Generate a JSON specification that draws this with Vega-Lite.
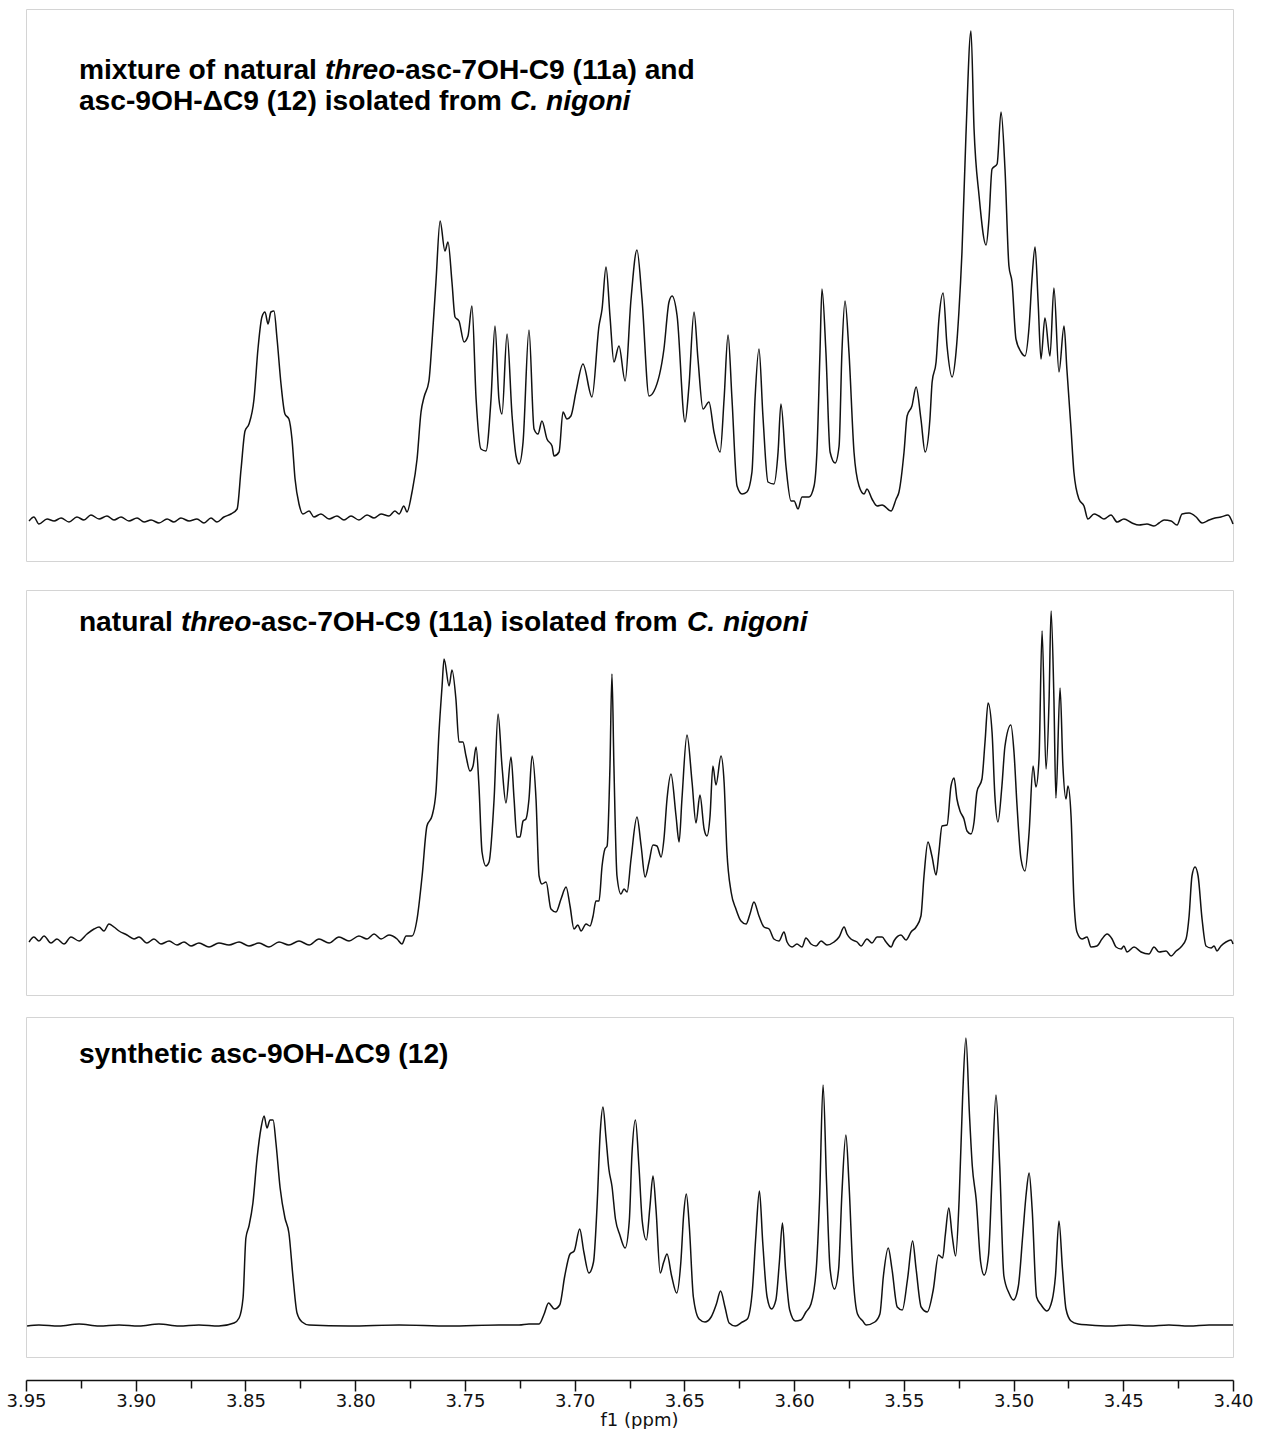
{
"$schema": "https://vega.github.io/schema/vega-lite/v6.json",
"background": "white",
"padding": {"left": 5, "top": 8, "right": 9, "bottom": 0},
"config": {"view": {"stroke": "#d4d4d4", "strokeWidth": 1}},
"datasets": {
"p1": [
{"ppm":3.9486,"intensity":40},{"ppm":3.9464,"intensity":44},{"ppm":3.9441,"intensity":37},{"ppm":3.9404,"intensity":42},{"ppm":3.9372,"intensity":40},{"ppm":3.9340,"intensity":43},{"ppm":3.9304,"intensity":39},{"ppm":3.9268,"intensity":44},{"ppm":3.9236,"intensity":41},{"ppm":3.9204,"intensity":46},{"ppm":3.9167,"intensity":42},{"ppm":3.9131,"intensity":45},{"ppm":3.9099,"intensity":41},{"ppm":3.9067,"intensity":44},{"ppm":3.9031,"intensity":40},{"ppm":3.8994,"intensity":43},{"ppm":3.8962,"intensity":39},{"ppm":3.8930,"intensity":41},{"ppm":3.8894,"intensity":38},{"ppm":3.8857,"intensity":42},{"ppm":3.8826,"intensity":39},{"ppm":3.8794,"intensity":43},{"ppm":3.8757,"intensity":40},{"ppm":3.8721,"intensity":42},{"ppm":3.8689,"intensity":38},{"ppm":3.8657,"intensity":43},{"ppm":3.8630,"intensity":39},{"ppm":3.8598,"intensity":44},{"ppm":3.8566,"intensity":47},{"ppm":3.8538,"intensity":52},{"ppm":3.8520,"intensity":92},{"ppm":3.8502,"intensity":130},{"ppm":3.8484,"intensity":137},{"ppm":3.8461,"intensity":162},{"ppm":3.8443,"intensity":212},{"ppm":3.8425,"intensity":244},{"ppm":3.8411,"intensity":249},{"ppm":3.8397,"intensity":237},{"ppm":3.8384,"intensity":249},{"ppm":3.8370,"intensity":250},{"ppm":3.8356,"intensity":222},{"ppm":3.8338,"intensity":177},{"ppm":3.8320,"intensity":147},{"ppm":3.8302,"intensity":142},{"ppm":3.8288,"intensity":122},{"ppm":3.8274,"intensity":82},{"ppm":3.8256,"intensity":57},{"ppm":3.8238,"intensity":47},{"ppm":3.8210,"intensity":50},{"ppm":3.8188,"intensity":44},{"ppm":3.8156,"intensity":47},{"ppm":3.8119,"intensity":42},{"ppm":3.8083,"intensity":45},{"ppm":3.8051,"intensity":41},{"ppm":3.8019,"intensity":45},{"ppm":3.7983,"intensity":41},{"ppm":3.7946,"intensity":46},{"ppm":3.7914,"intensity":43},{"ppm":3.7882,"intensity":47},{"ppm":3.7846,"intensity":45},{"ppm":3.7819,"intensity":50},{"ppm":3.7800,"intensity":47},{"ppm":3.7778,"intensity":55},{"ppm":3.7764,"intensity":49},{"ppm":3.7741,"intensity":69},{"ppm":3.7718,"intensity":102},{"ppm":3.7700,"intensity":149},{"ppm":3.7686,"intensity":164},{"ppm":3.7664,"intensity":180},{"ppm":3.7650,"intensity":219},{"ppm":3.7632,"intensity":279},{"ppm":3.7613,"intensity":340},{"ppm":3.7591,"intensity":310},{"ppm":3.7577,"intensity":319},{"ppm":3.7559,"intensity":279},{"ppm":3.7545,"intensity":244},{"ppm":3.7527,"intensity":240},{"ppm":3.7504,"intensity":219},{"ppm":3.7486,"intensity":225},{"ppm":3.7468,"intensity":255},{"ppm":3.7449,"intensity":162},{"ppm":3.7427,"intensity":112},{"ppm":3.7404,"intensity":110},{"ppm":3.7381,"intensity":162},{"ppm":3.7363,"intensity":235},{"ppm":3.7345,"intensity":162},{"ppm":3.7331,"intensity":147},{"ppm":3.7308,"intensity":227},{"ppm":3.7285,"intensity":145},{"ppm":3.7267,"intensity":105},{"ppm":3.7253,"intensity":97},{"ppm":3.7235,"intensity":119},{"ppm":3.7208,"intensity":231},{"ppm":3.7185,"intensity":132},{"ppm":3.7167,"intensity":127},{"ppm":3.7149,"intensity":140},{"ppm":3.7126,"intensity":122},{"ppm":3.7103,"intensity":115},{"ppm":3.7094,"intensity":105},{"ppm":3.7071,"intensity":109},{"ppm":3.7053,"intensity":149},{"ppm":3.7035,"intensity":142},{"ppm":3.7017,"intensity":145},{"ppm":3.6994,"intensity":169},{"ppm":3.6962,"intensity":197},{"ppm":3.6921,"intensity":164},{"ppm":3.6889,"intensity":235},{"ppm":3.6875,"intensity":252},{"ppm":3.6857,"intensity":294},{"ppm":3.6839,"intensity":245},{"ppm":3.6821,"intensity":199},{"ppm":3.6798,"intensity":215},{"ppm":3.6770,"intensity":180},{"ppm":3.6743,"intensity":262},{"ppm":3.6716,"intensity":311},{"ppm":3.6693,"intensity":262},{"ppm":3.6661,"intensity":165},{"ppm":3.6638,"intensity":170},{"ppm":3.6593,"intensity":212},{"ppm":3.6570,"intensity":259},{"ppm":3.6556,"intensity":265},{"ppm":3.6533,"intensity":245},{"ppm":3.6497,"intensity":139},{"ppm":3.6479,"intensity":175},{"ppm":3.6456,"intensity":249},{"ppm":3.6438,"intensity":202},{"ppm":3.6415,"intensity":152},{"ppm":3.6388,"intensity":159},{"ppm":3.6365,"intensity":129},{"ppm":3.6337,"intensity":109},{"ppm":3.6319,"intensity":162},{"ppm":3.6301,"intensity":226},{"ppm":3.6283,"intensity":162},{"ppm":3.6260,"intensity":75},{"ppm":3.6237,"intensity":67},{"ppm":3.6215,"intensity":69},{"ppm":3.6192,"intensity":89},{"ppm":3.6178,"intensity":162},{"ppm":3.6160,"intensity":212},{"ppm":3.6142,"intensity":145},{"ppm":3.6119,"intensity":79},{"ppm":3.6092,"intensity":77},{"ppm":3.6073,"intensity":109},{"ppm":3.6060,"intensity":157},{"ppm":3.6037,"intensity":95},{"ppm":3.6014,"intensity":60},{"ppm":3.6000,"intensity":60},{"ppm":3.5982,"intensity":52},{"ppm":3.5964,"intensity":64},{"ppm":3.5932,"intensity":64},{"ppm":3.5909,"intensity":75},{"ppm":3.5896,"intensity":109},{"ppm":3.5882,"intensity":209},{"ppm":3.5873,"intensity":272},{"ppm":3.5855,"intensity":209},{"ppm":3.5836,"intensity":109},{"ppm":3.5813,"intensity":98},{"ppm":3.5795,"intensity":115},{"ppm":3.5782,"intensity":209},{"ppm":3.5768,"intensity":260},{"ppm":3.5750,"intensity":209},{"ppm":3.5727,"intensity":109},{"ppm":3.5704,"intensity":75},{"ppm":3.5681,"intensity":67},{"ppm":3.5668,"intensity":72},{"ppm":3.5645,"intensity":62},{"ppm":3.5622,"intensity":55},{"ppm":3.5599,"intensity":56},{"ppm":3.5558,"intensity":50},{"ppm":3.5535,"intensity":62},{"ppm":3.5522,"intensity":69},{"ppm":3.5499,"intensity":109},{"ppm":3.5485,"intensity":145},{"ppm":3.5463,"intensity":155},{"ppm":3.5444,"intensity":174},{"ppm":3.5422,"intensity":142},{"ppm":3.5403,"intensity":109},{"ppm":3.5381,"intensity":142},{"ppm":3.5371,"intensity":179},{"ppm":3.5353,"intensity":199},{"ppm":3.5340,"intensity":242},{"ppm":3.5321,"intensity":268},{"ppm":3.5303,"intensity":215},{"ppm":3.5280,"intensity":184},{"ppm":3.5262,"intensity":209},{"ppm":3.5249,"intensity":249},{"ppm":3.5235,"intensity":309},{"ppm":3.5217,"intensity":425},{"ppm":3.5194,"intensity":530},{"ppm":3.5180,"intensity":432},{"ppm":3.5157,"intensity":365},{"ppm":3.5125,"intensity":316},{"ppm":3.5112,"intensity":342},{"ppm":3.5098,"intensity":392},{"ppm":3.5075,"intensity":397},{"ppm":3.5057,"intensity":449},{"ppm":3.5039,"intensity":392},{"ppm":3.5021,"intensity":295},{"ppm":3.5007,"intensity":279},{"ppm":3.4989,"intensity":222},{"ppm":3.4966,"intensity":209},{"ppm":3.4948,"intensity":205},{"ppm":3.4929,"intensity":235},{"ppm":3.4916,"intensity":282},{"ppm":3.4902,"intensity":314},{"ppm":3.4888,"intensity":259},{"ppm":3.4875,"intensity":202},{"ppm":3.4857,"intensity":243},{"ppm":3.4834,"intensity":205},{"ppm":3.4816,"intensity":273},{"ppm":3.4793,"intensity":189},{"ppm":3.4770,"intensity":235},{"ppm":3.4757,"intensity":192},{"ppm":3.4738,"intensity":132},{"ppm":3.4725,"intensity":89},{"ppm":3.4702,"intensity":62},{"ppm":3.4679,"intensity":55},{"ppm":3.4661,"intensity":42},{"ppm":3.4633,"intensity":47},{"ppm":3.4611,"intensity":45},{"ppm":3.4588,"intensity":42},{"ppm":3.4556,"intensity":46},{"ppm":3.4528,"intensity":39},{"ppm":3.4497,"intensity":42},{"ppm":3.4460,"intensity":38},{"ppm":3.4428,"intensity":36},{"ppm":3.4392,"intensity":37},{"ppm":3.4360,"intensity":35},{"ppm":3.4337,"intensity":38},{"ppm":3.4314,"intensity":41},{"ppm":3.4282,"intensity":40},{"ppm":3.4255,"intensity":36},{"ppm":3.4232,"intensity":47},{"ppm":3.4200,"intensity":48},{"ppm":3.4168,"intensity":44},{"ppm":3.4141,"intensity":38},{"ppm":3.4109,"intensity":41},{"ppm":3.4082,"intensity":43},{"ppm":3.4055,"intensity":44},{"ppm":3.4023,"intensity":46},{"ppm":3.4000,"intensity":37}
],
"p2": [
{"ppm":3.9486,"intensity":53},{"ppm":3.9464,"intensity":58},{"ppm":3.9441,"intensity":54},{"ppm":3.9418,"intensity":59},{"ppm":3.9386,"intensity":52},{"ppm":3.9359,"intensity":56},{"ppm":3.9327,"intensity":51},{"ppm":3.9295,"intensity":58},{"ppm":3.9258,"intensity":54},{"ppm":3.9222,"intensity":61},{"ppm":3.9190,"intensity":66},{"ppm":3.9167,"intensity":68},{"ppm":3.9145,"intensity":64},{"ppm":3.9122,"intensity":71},{"ppm":3.9099,"intensity":68},{"ppm":3.9076,"intensity":64},{"ppm":3.9040,"intensity":60},{"ppm":3.9008,"intensity":56},{"ppm":3.8985,"intensity":58},{"ppm":3.8949,"intensity":52},{"ppm":3.8917,"intensity":56},{"ppm":3.8885,"intensity":51},{"ppm":3.8848,"intensity":54},{"ppm":3.8812,"intensity":50},{"ppm":3.8780,"intensity":53},{"ppm":3.8748,"intensity":49},{"ppm":3.8712,"intensity":52},{"ppm":3.8666,"intensity":48},{"ppm":3.8621,"intensity":52},{"ppm":3.8575,"intensity":50},{"ppm":3.8529,"intensity":53},{"ppm":3.8484,"intensity":49},{"ppm":3.8438,"intensity":52},{"ppm":3.8393,"intensity":48},{"ppm":3.8347,"intensity":53},{"ppm":3.8302,"intensity":50},{"ppm":3.8256,"intensity":54},{"ppm":3.8210,"intensity":50},{"ppm":3.8165,"intensity":56},{"ppm":3.8119,"intensity":52},{"ppm":3.8074,"intensity":58},{"ppm":3.8028,"intensity":54},{"ppm":3.7983,"intensity":59},{"ppm":3.7946,"intensity":56},{"ppm":3.7914,"intensity":61},{"ppm":3.7882,"intensity":56},{"ppm":3.7846,"intensity":60},{"ppm":3.7809,"intensity":56},{"ppm":3.7787,"intensity":51},{"ppm":3.7768,"intensity":59},{"ppm":3.7741,"intensity":59},{"ppm":3.7718,"intensity":76},{"ppm":3.7695,"intensity":119},{"ppm":3.7673,"intensity":169},{"ppm":3.7650,"intensity":179},{"ppm":3.7632,"intensity":203},{"ppm":3.7618,"intensity":263},{"ppm":3.7604,"intensity":309},{"ppm":3.7595,"intensity":336},{"ppm":3.7572,"intensity":309},{"ppm":3.7559,"intensity":325},{"ppm":3.7541,"intensity":296},{"ppm":3.7527,"intensity":253},{"ppm":3.7509,"intensity":253},{"ppm":3.7495,"intensity":239},{"ppm":3.7477,"intensity":224},{"ppm":3.7463,"intensity":229},{"ppm":3.7449,"intensity":248},{"ppm":3.7436,"intensity":209},{"ppm":3.7422,"intensity":143},{"ppm":3.7404,"intensity":129},{"ppm":3.7390,"intensity":133},{"ppm":3.7367,"intensity":196},{"ppm":3.7349,"intensity":281},{"ppm":3.7331,"intensity":229},{"ppm":3.7313,"intensity":192},{"ppm":3.7290,"intensity":238},{"ppm":3.7276,"intensity":196},{"ppm":3.7263,"intensity":158},{"ppm":3.7249,"intensity":158},{"ppm":3.7235,"intensity":174},{"ppm":3.7222,"intensity":176},{"ppm":3.7208,"intensity":196},{"ppm":3.7194,"intensity":239},{"ppm":3.7176,"intensity":196},{"ppm":3.7162,"intensity":119},{"ppm":3.7149,"intensity":111},{"ppm":3.7130,"intensity":113},{"ppm":3.7108,"intensity":86},{"ppm":3.7085,"intensity":83},{"ppm":3.7062,"intensity":96},{"ppm":3.7039,"intensity":108},{"ppm":3.7021,"intensity":89},{"ppm":3.7003,"intensity":66},{"ppm":3.6985,"intensity":70},{"ppm":3.6971,"intensity":64},{"ppm":3.6948,"intensity":71},{"ppm":3.6930,"intensity":69},{"ppm":3.6916,"intensity":79},{"ppm":3.6903,"intensity":94},{"ppm":3.6889,"intensity":94},{"ppm":3.6875,"intensity":129},{"ppm":3.6862,"intensity":146},{"ppm":3.6852,"intensity":149},{"ppm":3.6839,"intensity":229},{"ppm":3.6830,"intensity":321},{"ppm":3.6821,"intensity":229},{"ppm":3.6807,"intensity":119},{"ppm":3.6789,"intensity":101},{"ppm":3.6775,"intensity":106},{"ppm":3.6761,"intensity":103},{"ppm":3.6743,"intensity":136},{"ppm":3.6716,"intensity":178},{"ppm":3.6697,"intensity":149},{"ppm":3.6679,"intensity":118},{"ppm":3.6661,"intensity":133},{"ppm":3.6643,"intensity":150},{"ppm":3.6625,"intensity":149},{"ppm":3.6606,"intensity":138},{"ppm":3.6593,"intensity":156},{"ppm":3.6579,"intensity":196},{"ppm":3.6561,"intensity":221},{"ppm":3.6538,"intensity":179},{"ppm":3.6524,"intensity":153},{"ppm":3.6511,"intensity":196},{"ppm":3.6488,"intensity":260},{"ppm":3.6465,"intensity":213},{"ppm":3.6447,"intensity":172},{"ppm":3.6429,"intensity":200},{"ppm":3.6410,"intensity":166},{"ppm":3.6397,"intensity":159},{"ppm":3.6383,"intensity":179},{"ppm":3.6370,"intensity":229},{"ppm":3.6356,"intensity":210},{"ppm":3.6333,"intensity":239},{"ppm":3.6319,"intensity":213},{"ppm":3.6306,"intensity":143},{"ppm":3.6287,"intensity":103},{"ppm":3.6265,"intensity":86},{"ppm":3.6242,"intensity":74},{"ppm":3.6219,"intensity":71},{"ppm":3.6201,"intensity":81},{"ppm":3.6183,"intensity":93},{"ppm":3.6160,"intensity":79},{"ppm":3.6137,"intensity":68},{"ppm":3.6114,"intensity":66},{"ppm":3.6092,"intensity":56},{"ppm":3.6069,"intensity":54},{"ppm":3.6046,"intensity":63},{"ppm":3.6032,"intensity":53},{"ppm":3.6009,"intensity":48},{"ppm":3.5987,"intensity":51},{"ppm":3.5964,"intensity":48},{"ppm":3.5946,"intensity":57},{"ppm":3.5923,"intensity":51},{"ppm":3.5900,"intensity":49},{"ppm":3.5877,"intensity":54},{"ppm":3.5850,"intensity":50},{"ppm":3.5818,"intensity":53},{"ppm":3.5795,"intensity":58},{"ppm":3.5772,"intensity":68},{"ppm":3.5759,"intensity":61},{"ppm":3.5741,"intensity":56},{"ppm":3.5713,"intensity":53},{"ppm":3.5695,"intensity":49},{"ppm":3.5668,"intensity":56},{"ppm":3.5645,"intensity":52},{"ppm":3.5622,"intensity":58},{"ppm":3.5599,"intensity":58},{"ppm":3.5581,"intensity":53},{"ppm":3.5558,"intensity":48},{"ppm":3.5545,"intensity":54},{"ppm":3.5513,"intensity":60},{"ppm":3.5490,"intensity":55},{"ppm":3.5467,"intensity":63},{"ppm":3.5444,"intensity":68},{"ppm":3.5422,"intensity":79},{"ppm":3.5408,"intensity":119},{"ppm":3.5390,"intensity":153},{"ppm":3.5372,"intensity":139},{"ppm":3.5353,"intensity":120},{"ppm":3.5340,"intensity":143},{"ppm":3.5326,"intensity":169},{"ppm":3.5303,"intensity":170},{"ppm":3.5285,"intensity":209},{"ppm":3.5271,"intensity":217},{"ppm":3.5258,"intensity":196},{"ppm":3.5244,"intensity":184},{"ppm":3.5226,"intensity":176},{"ppm":3.5212,"intensity":164},{"ppm":3.5194,"intensity":161},{"ppm":3.5180,"intensity":173},{"ppm":3.5167,"intensity":203},{"ppm":3.5144,"intensity":216},{"ppm":3.5130,"intensity":253},{"ppm":3.5116,"intensity":292},{"ppm":3.5098,"intensity":263},{"ppm":3.5085,"intensity":199},{"ppm":3.5071,"intensity":173},{"ppm":3.5053,"intensity":209},{"ppm":3.5039,"intensity":249},{"ppm":3.5012,"intensity":270},{"ppm":3.4998,"intensity":243},{"ppm":3.4984,"intensity":189},{"ppm":3.4966,"intensity":136},{"ppm":3.4948,"intensity":124},{"ppm":3.4929,"intensity":163},{"ppm":3.4911,"intensity":229},{"ppm":3.4898,"intensity":208},{"ppm":3.4884,"intensity":236},{"ppm":3.4870,"intensity":364},{"ppm":3.4852,"intensity":226},{"ppm":3.4838,"intensity":296},{"ppm":3.4829,"intensity":384},{"ppm":3.4816,"intensity":296},{"ppm":3.4807,"intensity":197},{"ppm":3.4788,"intensity":307},{"ppm":3.4775,"intensity":229},{"ppm":3.4761,"intensity":196},{"ppm":3.4752,"intensity":209},{"ppm":3.4738,"intensity":179},{"ppm":3.4725,"intensity":96},{"ppm":3.4711,"intensity":63},{"ppm":3.4688,"intensity":56},{"ppm":3.4665,"intensity":58},{"ppm":3.4647,"intensity":48},{"ppm":3.4620,"intensity":49},{"ppm":3.4597,"intensity":56},{"ppm":3.4574,"intensity":61},{"ppm":3.4551,"intensity":56},{"ppm":3.4533,"intensity":48},{"ppm":3.4510,"intensity":46},{"ppm":3.4497,"intensity":49},{"ppm":3.4483,"intensity":43},{"ppm":3.4451,"intensity":48},{"ppm":3.4419,"intensity":43},{"ppm":3.4383,"intensity":41},{"ppm":3.4360,"intensity":48},{"ppm":3.4337,"intensity":43},{"ppm":3.4305,"intensity":44},{"ppm":3.4282,"intensity":39},{"ppm":3.4259,"intensity":44},{"ppm":3.4237,"intensity":48},{"ppm":3.4214,"intensity":56},{"ppm":3.4200,"intensity":79},{"ppm":3.4187,"intensity":119},{"ppm":3.4173,"intensity":128},{"ppm":3.4159,"intensity":119},{"ppm":3.4141,"intensity":76},{"ppm":3.4123,"intensity":49},{"ppm":3.4100,"intensity":47},{"ppm":3.4086,"intensity":49},{"ppm":3.4073,"intensity":44},{"ppm":3.4055,"intensity":49},{"ppm":3.4032,"intensity":53},{"ppm":3.4009,"intensity":55},{"ppm":3.4000,"intensity":51}
],
"p3": [
{"ppm":3.9495,"intensity":31},{"ppm":3.9441,"intensity":32},{"ppm":3.9350,"intensity":31},{"ppm":3.9258,"intensity":33},{"ppm":3.9167,"intensity":31},{"ppm":3.9076,"intensity":32},{"ppm":3.8985,"intensity":31},{"ppm":3.8894,"intensity":33},{"ppm":3.8803,"intensity":31},{"ppm":3.8712,"intensity":32},{"ppm":3.8621,"intensity":31},{"ppm":3.8552,"intensity":34},{"ppm":3.8529,"intensity":39},{"ppm":3.8511,"intensity":59},{"ppm":3.8498,"intensity":119},{"ppm":3.8484,"intensity":131},{"ppm":3.8466,"intensity":154},{"ppm":3.8447,"intensity":199},{"ppm":3.8429,"intensity":229},{"ppm":3.8415,"intensity":241},{"ppm":3.8402,"intensity":229},{"ppm":3.8388,"intensity":237},{"ppm":3.8374,"intensity":237},{"ppm":3.8361,"intensity":214},{"ppm":3.8342,"intensity":169},{"ppm":3.8320,"intensity":139},{"ppm":3.8302,"intensity":124},{"ppm":3.8283,"intensity":79},{"ppm":3.8265,"intensity":44},{"ppm":3.8242,"intensity":35},{"ppm":3.8210,"intensity":32},{"ppm":3.8028,"intensity":31},{"ppm":3.7800,"intensity":32},{"ppm":3.7572,"intensity":31},{"ppm":3.7345,"intensity":32},{"ppm":3.7253,"intensity":32},{"ppm":3.7208,"intensity":33},{"ppm":3.7162,"intensity":33},{"ppm":3.7139,"intensity":43},{"ppm":3.7119,"intensity":54},{"ppm":3.7092,"intensity":48},{"ppm":3.7068,"intensity":52},{"ppm":3.7045,"intensity":81},{"ppm":3.7021,"intensity":103},{"ppm":3.7002,"intensity":106},{"ppm":3.6977,"intensity":128},{"ppm":3.6958,"intensity":105},{"ppm":3.6935,"intensity":84},{"ppm":3.6914,"intensity":95},{"ppm":3.6898,"intensity":150},{"ppm":3.6883,"intensity":226},{"ppm":3.6871,"intensity":250},{"ppm":3.6857,"intensity":219},{"ppm":3.6844,"intensity":188},{"ppm":3.6830,"intensity":171},{"ppm":3.6814,"intensity":138},{"ppm":3.6794,"intensity":122},{"ppm":3.6770,"intensity":109},{"ppm":3.6751,"intensity":136},{"ppm":3.6739,"intensity":202},{"ppm":3.6723,"intensity":237},{"ppm":3.6707,"intensity":191},{"ppm":3.6692,"intensity":136},{"ppm":3.6673,"intensity":117},{"ppm":3.6657,"intensity":150},{"ppm":3.6643,"intensity":181},{"ppm":3.6629,"intensity":147},{"ppm":3.6610,"intensity":84},{"ppm":3.6594,"intensity":95},{"ppm":3.6579,"intensity":103},{"ppm":3.6558,"intensity":81},{"ppm":3.6535,"intensity":64},{"ppm":3.6516,"intensity":95},{"ppm":3.6503,"intensity":143},{"ppm":3.6491,"intensity":163},{"ppm":3.6477,"intensity":129},{"ppm":3.6459,"intensity":60},{"ppm":3.6433,"intensity":38},{"ppm":3.6406,"intensity":35},{"ppm":3.6378,"intensity":40},{"ppm":3.6354,"intensity":53},{"ppm":3.6335,"intensity":66},{"ppm":3.6315,"intensity":50},{"ppm":3.6296,"intensity":34},{"ppm":3.6268,"intensity":31},{"ppm":3.6236,"intensity":35},{"ppm":3.6213,"intensity":38},{"ppm":3.6190,"intensity":67},{"ppm":3.6174,"intensity":122},{"ppm":3.6158,"intensity":166},{"ppm":3.6143,"intensity":115},{"ppm":3.6123,"intensity":60},{"ppm":3.6103,"intensity":48},{"ppm":3.6083,"intensity":57},{"ppm":3.6067,"intensity":95},{"ppm":3.6053,"intensity":134},{"ppm":3.6039,"intensity":88},{"ppm":3.6020,"intensity":47},{"ppm":3.5994,"intensity":36},{"ppm":3.5970,"intensity":37},{"ppm":3.5946,"intensity":45},{"ppm":3.5923,"intensity":53},{"ppm":3.5899,"intensity":88},{"ppm":3.5884,"intensity":157},{"ppm":3.5868,"intensity":272},{"ppm":3.5852,"intensity":174},{"ppm":3.5836,"intensity":88},{"ppm":3.5816,"intensity":68},{"ppm":3.5797,"intensity":88},{"ppm":3.5782,"intensity":164},{"ppm":3.5764,"intensity":222},{"ppm":3.5750,"intensity":174},{"ppm":3.5731,"intensity":81},{"ppm":3.5711,"intensity":43},{"ppm":3.5687,"intensity":36},{"ppm":3.5672,"intensity":32},{"ppm":3.5632,"intensity":35},{"ppm":3.5609,"intensity":43},{"ppm":3.5593,"intensity":81},{"ppm":3.5571,"intensity":109},{"ppm":3.5554,"intensity":88},{"ppm":3.5530,"intensity":50},{"ppm":3.5507,"intensity":47},{"ppm":3.5483,"intensity":78},{"ppm":3.5460,"intensity":116},{"ppm":3.5444,"intensity":88},{"ppm":3.5421,"intensity":50},{"ppm":3.5393,"intensity":45},{"ppm":3.5366,"intensity":67},{"ppm":3.5342,"intensity":102},{"ppm":3.5323,"intensity":99},{"ppm":3.5311,"intensity":122},{"ppm":3.5295,"intensity":149},{"ppm":3.5280,"intensity":122},{"ppm":3.5264,"intensity":101},{"ppm":3.5248,"intensity":157},{"ppm":3.5232,"intensity":260},{"ppm":3.5217,"intensity":319},{"ppm":3.5201,"intensity":243},{"ppm":3.5188,"intensity":191},{"ppm":3.5170,"intensity":157},{"ppm":3.5150,"intensity":95},{"ppm":3.5134,"intensity":82},{"ppm":3.5114,"intensity":102},{"ppm":3.5099,"intensity":174},{"ppm":3.5080,"intensity":262},{"ppm":3.5063,"intensity":191},{"ppm":3.5044,"intensity":81},{"ppm":3.5021,"intensity":64},{"ppm":3.5000,"intensity":57},{"ppm":3.4978,"intensity":71},{"ppm":3.4958,"intensity":122},{"ppm":3.4942,"intensity":164},{"ppm":3.4929,"intensity":184},{"ppm":3.4915,"intensity":147},{"ppm":3.4895,"intensity":60},{"ppm":3.4874,"intensity":52},{"ppm":3.4848,"intensity":46},{"ppm":3.4824,"intensity":57},{"ppm":3.4809,"intensity":81},{"ppm":3.4793,"intensity":136},{"ppm":3.4777,"intensity":88},{"ppm":3.4761,"intensity":48},{"ppm":3.4738,"intensity":36},{"ppm":3.4706,"intensity":33},{"ppm":3.4656,"intensity":32},{"ppm":3.4565,"intensity":31},{"ppm":3.4474,"intensity":32},{"ppm":3.4383,"intensity":31},{"ppm":3.4292,"intensity":32},{"ppm":3.4200,"intensity":31},{"ppm":3.4109,"intensity":32},{"ppm":3.4000,"intensity":32}
]
},
"spacing": 27,
"vconcat": [
{
"width": 1207, "height": 552,
"layer": [
{"data": {"name": "p1"},
 "mark": {"type": "line", "color": "#111111", "strokeWidth": 1.5, "interpolate": "monotone"},
 "encoding": {
  "x": {"field": "ppm", "type": "quantitative", "scale": {"domain": [3.40, 3.95], "reverse": true, "nice": false, "zero": false}, "axis": null},
  "y": {"field": "intensity", "type": "quantitative", "scale": {"domain": [0, 552], "nice": false, "zero": false}, "axis": null}}},
{"data": {"values": [{"t": "mixture of natural "}]},
 "mark": {"type": "text", "align": "left", "baseline": "alphabetic", "font": "Liberation Sans", "fontSize": 28.2, "fontWeight": "bold", "color": "black"},
 "encoding": {"text": {"field": "t"}, "x": {"datum": 3.9259, "type": "quantitative"}, "y": {"datum": 482, "type": "quantitative"}}},
{"data": {"values": [{"t": "threo"}]},
 "mark": {"type": "text", "align": "left", "baseline": "alphabetic", "font": "Liberation Sans", "fontSize": 28.2, "fontWeight": "bold", "fontStyle": "italic", "color": "black"},
 "encoding": {"text": {"field": "t"}, "x": {"datum": 3.8138, "type": "quantitative"}, "y": {"datum": 482, "type": "quantitative"}}},
{"data": {"values": [{"t": "-asc-7OH-C9 (11a) and"}]},
 "mark": {"type": "text", "align": "left", "baseline": "alphabetic", "font": "Liberation Sans", "fontSize": 28.2, "fontWeight": "bold", "color": "black"},
 "encoding": {"text": {"field": "t"}, "x": {"datum": 3.7816, "type": "quantitative"}, "y": {"datum": 482, "type": "quantitative"}}},
{"data": {"values": [{"t": "asc-9OH-ΔC9 (12) isolated from "}]},
 "mark": {"type": "text", "align": "left", "baseline": "alphabetic", "font": "Liberation Sans", "fontSize": 28.2, "fontWeight": "bold", "color": "black"},
 "encoding": {"text": {"field": "t"}, "x": {"datum": 3.9259, "type": "quantitative"}, "y": {"datum": 451, "type": "quantitative"}}},
{"data": {"values": [{"t": "C. nigoni"}]},
 "mark": {"type": "text", "align": "left", "baseline": "alphabetic", "font": "Liberation Sans", "fontSize": 28.2, "fontWeight": "bold", "fontStyle": "italic", "color": "black"},
 "encoding": {"text": {"field": "t"}, "x": {"datum": 3.7295, "type": "quantitative"}, "y": {"datum": 451, "type": "quantitative"}}}
]
},
{
"spacing": 20,
"vconcat": [
{
"width": 1207, "height": 405,
"layer": [
{"data": {"name": "p2"},
 "mark": {"type": "line", "color": "#111111", "strokeWidth": 1.5, "interpolate": "monotone"},
 "encoding": {
  "x": {"field": "ppm", "type": "quantitative", "scale": {"domain": [3.40, 3.95], "reverse": true, "nice": false, "zero": false}, "axis": null},
  "y": {"field": "intensity", "type": "quantitative", "scale": {"domain": [0, 405], "nice": false, "zero": false}, "axis": null}}},
{"data": {"values": [{"t": "natural "}]},
 "mark": {"type": "text", "align": "left", "baseline": "alphabetic", "font": "Liberation Sans", "fontSize": 28.2, "fontWeight": "bold", "color": "black"},
 "encoding": {"text": {"field": "t"}, "x": {"datum": 3.9259, "type": "quantitative"}, "y": {"datum": 364, "type": "quantitative"}}},
{"data": {"values": [{"t": "threo"}]},
 "mark": {"type": "text", "align": "left", "baseline": "alphabetic", "font": "Liberation Sans", "fontSize": 28.2, "fontWeight": "bold", "fontStyle": "italic", "color": "black"},
 "encoding": {"text": {"field": "t"}, "x": {"datum": 3.8794, "type": "quantitative"}, "y": {"datum": 364, "type": "quantitative"}}},
{"data": {"values": [{"t": "-asc-7OH-C9 (11a) isolated from "}]},
 "mark": {"type": "text", "align": "left", "baseline": "alphabetic", "font": "Liberation Sans", "fontSize": 28.2, "fontWeight": "bold", "color": "black"},
 "encoding": {"text": {"field": "t"}, "x": {"datum": 3.8473, "type": "quantitative"}, "y": {"datum": 364, "type": "quantitative"}}},
{"data": {"values": [{"t": "C. nigoni"}]},
 "mark": {"type": "text", "align": "left", "baseline": "alphabetic", "font": "Liberation Sans", "fontSize": 28.2, "fontWeight": "bold", "fontStyle": "italic", "color": "black"},
 "encoding": {"text": {"field": "t"}, "x": {"datum": 3.6488, "type": "quantitative"}, "y": {"datum": 364, "type": "quantitative"}}}
]
},
{
"width": 1207, "height": 340,
"layer": [
{"data": {"name": "p3"},
 "mark": {"type": "line", "color": "#111111", "strokeWidth": 1.5, "interpolate": "monotone"},
 "encoding": {
  "x": {"field": "ppm", "type": "quantitative", "scale": {"domain": [3.40, 3.95], "reverse": true, "nice": false, "zero": false},
   "axis": {"orient": "bottom", "offset": 23, "values": [3.95,3.925,3.9,3.875,3.85,3.825,3.8,3.775,3.75,3.725,3.7,3.675,3.65,3.625,3.6,3.575,3.55,3.525,3.5,3.475,3.45,3.425,3.4],
    "labelExpr": "abs(datum.value*20 - round(datum.value*20)) < 0.01 ? format(datum.value, '.2f') : ''",
    "tickSize": {"condition": {"test": "abs(datum.value*20 - round(datum.value*20)) < 0.01", "value": 11}, "value": 8},
    "grid": false, "domainColor": "#111111", "domainWidth": 1.5, "tickColor": "#111111", "tickWidth": 1.5,
    "labelFont": "DejaVu Sans", "labelFontSize": 18, "labelColor": "#111111", "labelPadding": 1, "labelFlush": false, "labelOverlap": false,
    "title": "f1 (ppm)", "titleFont": "DejaVu Sans", "titleFontSize": 18, "titleFontWeight": "normal", "titleColor": "#111111", "titlePadding": 1, "titleX": 613}},
  "y": {"field": "intensity", "type": "quantitative", "scale": {"domain": [0, 340], "nice": false, "zero": false}, "axis": null}}},
{"data": {"values": [{"t": "synthetic asc-9OH-ΔC9 (12)"}]},
 "mark": {"type": "text", "align": "left", "baseline": "alphabetic", "font": "Liberation Sans", "fontSize": 28.2, "fontWeight": "bold", "color": "black"},
 "encoding": {"text": {"field": "t"}, "x": {"datum": 3.9259, "type": "quantitative"}, "y": {"datum": 294, "type": "quantitative"}}}
]
}
]
}
]
}
